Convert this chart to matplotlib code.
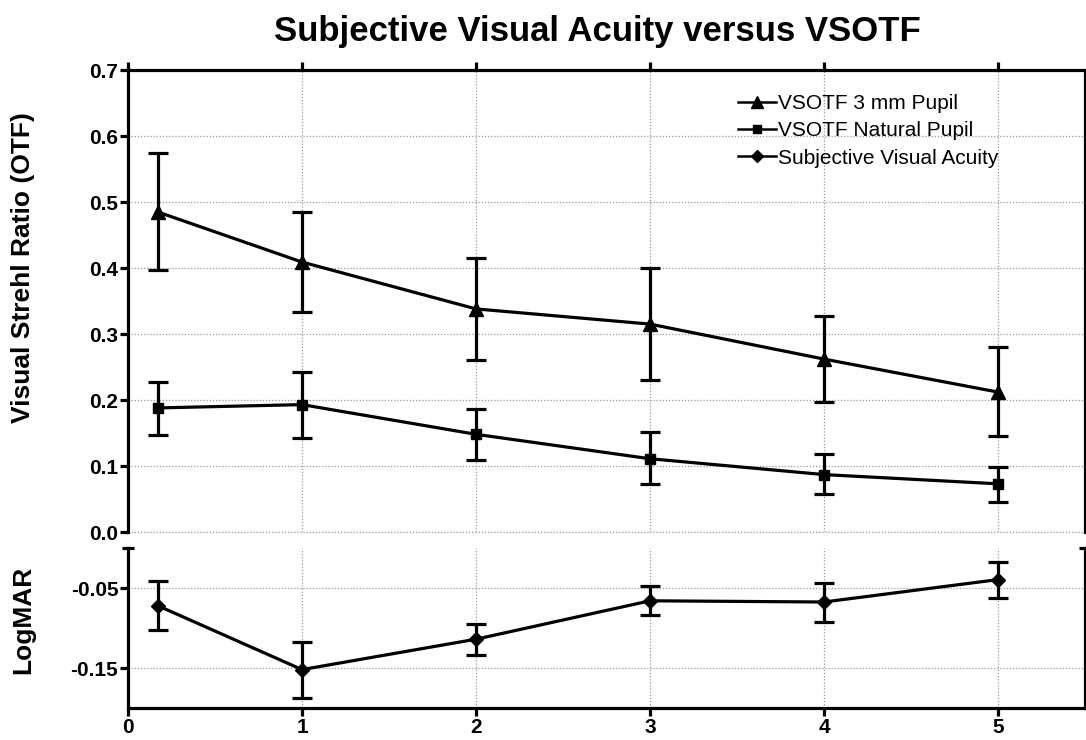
import numpy as np
import matplotlib
matplotlib.use("Agg")
import matplotlib.pyplot as plt
from matplotlib.ticker import FixedLocator
from matplotlib.lines import Line2D

plt.rcParams['font.family'] = ['Liberation Sans', 'DejaVu Sans']

# data
x = [0.17, 1, 2, 3, 4, 5]

otf_3mm = [0.485, 0.409, 0.338, 0.315, 0.262, 0.212]
otf_3mm_hi = [0.575, 0.485, 0.415, 0.400, 0.327, 0.280]
otf_3mm_lo = [0.397, 0.333, 0.260, 0.230, 0.197, 0.146]

otf_nat = [0.188, 0.193, 0.148, 0.111, 0.087, 0.073]
otf_nat_hi = [0.228, 0.243, 0.187, 0.152, 0.118, 0.099]
otf_nat_lo = [0.147, 0.142, 0.109, 0.072, 0.057, 0.046]

logmar = [-0.072, -0.152, -0.114, -0.066, -0.0675, -0.0395]
logmar_hi = [-0.041, -0.1175, -0.0945, -0.048, -0.044, -0.018]
logmar_lo = [-0.103, -0.187, -0.134, -0.084, -0.0925, -0.062]

labels = ['VSOTF 3 mm Pupil', 'VSOTF Natural Pupil', 'Subjective Visual Acuity']
x_ticks = [0, 1, 2, 3, 4, 5]
top_yticks = [0.0, 0.1, 0.2, 0.3, 0.4, 0.5, 0.6, 0.7]
bot_yticks = [-0.15, -0.05]


def err(mean, hi, lo):
    mean = np.array(mean)
    return [mean - np.array(lo), np.array(hi) - mean]


fig = plt.figure(figsize=(10.86, 7.40), dpi=100)
W, H = 1086.0, 740.0
ax1 = fig.add_axes([128 / W, 1 - 532 / H, (1085 - 128) / W, (532 - 70) / H])
ax2 = fig.add_axes([128 / W, 1 - 708 / H, (1085 - 128) / W, (708 - 548) / H])

lw = 2.3
eb = dict(color='black', lw=lw, elinewidth=lw, capsize=7, capthick=lw)

ax1.errorbar(x, otf_3mm, yerr=err(otf_3mm, otf_3mm_hi, otf_3mm_lo),
             marker='^', markersize=10, **eb)
ax1.errorbar(x, otf_nat, yerr=err(otf_nat, otf_nat_hi, otf_nat_lo),
             marker='s', markersize=7.5, **eb)
ax2.errorbar(x, logmar, yerr=err(logmar, logmar_hi, logmar_lo),
             marker='D', markersize=7.5, **eb)

grid_style = dict(color='#999999', linestyle=(0, (1, 1.5)), linewidth=0.9)
for ax in (ax1, ax2):
    ax.set_xlim(0, 5.5)
    ax.set_xticks(x_ticks)
    ax.grid(True, **grid_style)
    ax.set_axisbelow(True)
    for s in ax.spines.values():
        s.set_linewidth(2.3)
    ax.tick_params(axis='both', which='major', length=6, width=2.3,
                   labelsize=15, pad=1)

# top panel
ax1.set_ylim(0, 0.7)
ax1.set_yticks(top_yticks)
ax1.set_yticklabels(['%.1f' % v for v in top_yticks], fontweight='bold')
ax1.spines['bottom'].set_visible(False)
ax1.axhline(0.0, clip_on=False, zorder=0, **grid_style)
ax1.xaxis.set_ticks_position('top')
ax1.tick_params(axis='x', labeltop=False, direction='out')
ax1.yaxis.set_minor_locator(FixedLocator([0.0]))
ax1.tick_params(axis='y', which='minor', left=False, right=True,
                direction='in', length=6, width=2.3)

# bottom panel
ax2.set_ylim(-0.2, 0.0)
ax2.set_yticks(bot_yticks)
ax2.set_yticklabels(['-0.15', '-0.05'], fontweight='bold')
ax2.spines['top'].set_visible(False)
ax2.set_xticklabels([str(v) for v in x_ticks], fontweight='bold')
ax2.yaxis.set_minor_locator(FixedLocator([0.0]))
ax2.tick_params(axis='y', which='minor', left=True, right=True,
                direction='inout', length=8, width=2.3)

fig.text(597 / W, 1 - 32 / H, 'Subjective Visual Acuity versus VSOTF',
         ha='center', va='center', fontsize=25, fontweight='bold')
fig.text(23 / W, 1 - 268 / H, 'Visual Strehl Ratio (OTF)', rotation=90,
         ha='center', va='center', fontsize=19, fontweight='bold')
fig.text(23 / W, 1 - 620 / H, 'LogMAR', rotation=90,
         ha='center', va='center', fontsize=19, fontweight='bold')

handles = [Line2D([], [], color='black', lw=1.8, marker=m, markersize=ms)
           for m, ms in (('^', 8), ('s', 6), ('D', 6))]
ax1.legend(handles, labels,
           loc='upper left', bbox_to_anchor=((738 - 128) / (1085 - 128), 0.948),
           frameon=False, fontsize=15, handlelength=1.8, handletextpad=0.1,
           labelspacing=0.4, borderaxespad=0, borderpad=0)

fig.savefig('out.png', dpi=100)
